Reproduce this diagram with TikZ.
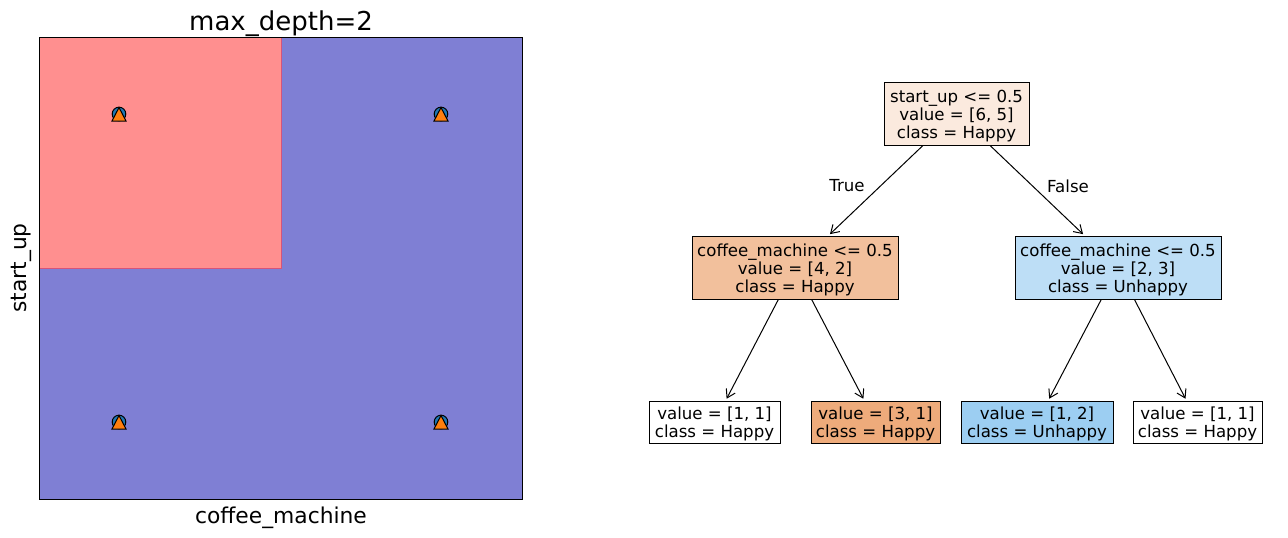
\documentclass[tikz,border=0pt]{standalone}
\usepackage{fontspec}
\setmainfont{DejaVu Sans}
\usetikzlibrary{arrows.meta}
\definecolor{regred}{RGB}{255,143,143}
\definecolor{regblue}{RGB}{127,127,212}
\definecolor{edgered}{RGB}{214,84,122}
\definecolor{mblue}{RGB}{31,119,180}
\definecolor{morange}{RGB}{255,127,14}
\definecolor{nroot}{RGB}{251,234,222}
\definecolor{nleft}{RGB}{242,192,156}
\definecolor{nright}{RGB}{189,222,246}
\definecolor{nlleaf}{RGB}{238,171,123}
\definecolor{nrleaf}{RGB}{156,206,242}
\tikzset{
  treebox/.style={draw=black, line width=1pt, inner sep=0pt, align=center,
    font=\fontsize{16.6}{18}\selectfont},
  arr/.style={-{Straight Barb[length=8pt,width=10pt]}, line width=1pt, shorten >=2pt},
  edgelab/.style={font=\fontsize{16.6}{18}\selectfont, inner sep=0pt},
  axlab/.style={font=\fontsize{21.8}{24}\selectfont, inner sep=0pt},
  ttl/.style={font=\fontsize{26}{28}\selectfont, inner sep=0pt},
}
\newcommand{\tp}{\rule{0pt}{16.6pt}}
\newcommand{\mymarker}[2]{%
  \fill[mblue, draw=black, line width=1pt] (#1,#2) circle (6.8);
  \filldraw[fill=morange, draw=black, line width=1pt, line join=miter]
    (#1,#2-6.5) -- (#1-7,#2+7) -- (#1+7,#2+7) -- cycle;
}
\begin{document}
\begin{tikzpicture}[x=1pt,y=-1pt]
\useasboundingbox[fill=white] (0,0) rectangle (1288,538);
% decision regions
\fill[regblue] (39,37) rectangle (522,499);
\fill[regred] (39,37) rectangle (281,268);
\draw[edgered, line width=1pt] (281,37) -- (281,268) -- (39,268);
\draw[black, line width=1pt] (39,37) rectangle (522,499);
% markers
\mymarker{119}{114}
\mymarker{441}{114}
\mymarker{119}{422}
\mymarker{441}{422}
% labels
\node[ttl, anchor=base] (title) at (281,30) {max\_depth=2};
\node[axlab, anchor=base] (xlab) at (281,523) {coffee\_machine};
\node[axlab, anchor=base, rotate=90] (ylab) at (27,268) {start\_up};
% tree
\node[treebox, fill=nroot, minimum width=145, minimum height=63] (root) at (956.5,113.5)
  {\tp start\_up <= 0.5\\value = [6, 5]\\class = Happy};
\node[treebox, fill=nleft, minimum width=206, minimum height=63] (left) at (795,267.5)
  {\tp coffee\_machine <= 0.5\\value = [4, 2]\\class = Happy};
\node[treebox, fill=nright, minimum width=206, minimum height=63] (right) at (1118,267.5)
  {\tp coffee\_machine <= 0.5\\value = [2, 3]\\class = Unhappy};
\node[treebox, fill=white, minimum width=131, minimum height=42] (l1) at (714.5,422)
  {\tp value = [1, 1]\\class = Happy};
\node[treebox, fill=nlleaf, minimum width=129, minimum height=42] (l2) at (875.5,422)
  {\tp value = [3, 1]\\class = Happy};
\node[treebox, fill=nrleaf, minimum width=152, minimum height=42] (l3) at (1037,422)
  {\tp value = [1, 2]\\class = Unhappy};
\node[treebox, fill=white, minimum width=129, minimum height=42] (l4) at (1197.5,422)
  {\tp value = [1, 1]\\class = Happy};
\draw[arr] (root) -- (left);
\draw[arr] (root) -- (right);
\draw[arr] (left) -- (l1);
\draw[arr] (left) -- (l2);
\draw[arr] (right) -- (l3);
\draw[arr] (right) -- (l4);
\node[edgelab] (tlab) at (847,186) {True};
\node[edgelab] (flab) at (1068,186) {False};
\end{tikzpicture}
\end{document}
